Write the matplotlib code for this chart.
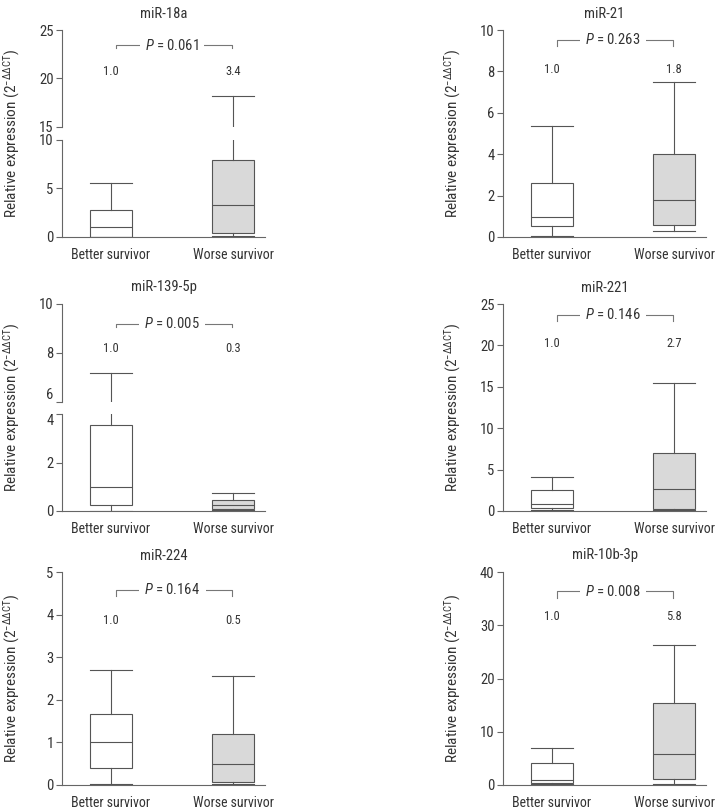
import matplotlib
matplotlib.use('Agg')
import matplotlib.pyplot as plt
from matplotlib import font_manager

names = {f.name for f in font_manager.fontManager.ttflist}
fam = 'Roboto Condensed' if 'Roboto Condensed' in names else 'Liberation Sans'
plt.rcParams['font.family'] = [fam, 'DejaVu Sans']
plt.rcParams['mathtext.fontset'] = 'custom'
plt.rcParams['mathtext.rm'] = fam
plt.rcParams['mathtext.it'] = fam + ':italic'

titles = ['miR-18a', 'miR-21', 'miR-139-5p', 'miR-221', 'miR-224', 'miR-10b-3p']
groups = ['Better survivor', 'Worse survivor']
p_values = ['0.061', '0.263', '0.005', '0.146', '0.164', '0.008']
fold_better = ['1.0', '1.0', '1.0', '1.0', '1.0', '1.0']
fold_worse = ['3.4', '1.8', '0.3', '2.7', '0.5', '5.8']

# whislo, q1, median, q3, whishi
better = [[0.0, 0.05, 1.05, 2.8, 5.6],
          [0.05, 0.52, 0.98, 2.62, 5.38],
          [0.0, 0.26, 0.97, 3.53, 7.18],
          [0.1, 0.37, 0.9, 2.48, 4.13],
          [0.02, 0.39, 1.01, 1.67, 2.69],
          [0.1, 0.3, 0.97, 4.1, 6.9]]
worse = [[0.1, 0.45, 3.25, 7.9, 18.2],
         [0.29, 0.57, 1.78, 4.03, 7.5],
         [0.03, 0.08, 0.24, 0.44, 0.76],
         [0.1, 0.25, 2.64, 7.0, 15.5],
         [0.02, 0.08, 0.49, 1.19, 2.56],
         [0.1, 1.22, 5.74, 15.4, 26.2]]

# y axis ranges; broken axes have (lower, upper)
y_lower = [(0, 10), (0, 10), (0, 4), (0, 25), (0, 5), (0, 40)]
y_upper = [(15, 25), None, (6, 10), None, None, None]
tick_step = [5, 2, 2, 5, 1, 10]

# layout (pixels in a 719x810 image)
W, H = 719, 810
col_left = [62, 503]
ax_w = 203
rows = [(30, 237), (304, 511), (572, 785)]
breaks = {0: ((30, 127), (140, 237)), 2: ((304, 402), (414, 511))}
bracket_y = [23.45, 9.53, 9.2, 23.7, 4.58, 36.4]
label_y = [20.7, 8.1, 8.2, 20.25, 3.87, 31.7]

edge = '#555555'
fill = ['white', '#d9d9d9']
txt = '#333333'


def rect(x, top, bottom):
    return [x / W, 1 - bottom / H, ax_w / W, (bottom - top) / H]


def stats(v, name):
    return dict(whislo=v[0], q1=v[1], med=v[2], q3=v[3], whishi=v[4], label=name)


def style(ax, lo, hi, step, bottom=True):
    ax.set_xlim(0.598, 2.262)
    ax.set_ylim(lo, hi)
    ax.set_yticks(range(lo, hi + 1, step))
    for s in ['top', 'right']:
        ax.spines[s].set_visible(False)
    for s in ['left', 'bottom']:
        ax.spines[s].set_color('#666666')
        ax.spines[s].set_linewidth(0.8)
    ax.tick_params(axis='y', direction='out', length=4, width=0.8, color='#666666',
                   labelsize=10.5, labelcolor=txt, pad=2)
    ax.tick_params(axis='x', length=0, labelsize=10, labelcolor=txt, pad=8)
    if not bottom:
        ax.spines['bottom'].set_visible(False)
        ax.set_xticks([])


fig = plt.figure(figsize=(W / 100, H / 100), dpi=100)

for i in range(6):
    col = i % 2
    row = i // 2
    x0 = col_left[col]
    if i in breaks:
        (ut, ub), (lt, lb) = breaks[i]
        ax_hi = fig.add_axes(rect(x0, ut, ub))
        ax_lo = fig.add_axes(rect(x0, lt, lb))
        style(ax_hi, y_upper[i][0], y_upper[i][1], tick_step[i], bottom=False)
        style(ax_lo, y_lower[i][0], y_lower[i][1], tick_step[i])
        axes = [ax_hi, ax_lo]
        if i == 2:
            # labels either side of the tight break
            ax_hi.get_yticklabels()[0].set_va('bottom')
            ax_lo.get_yticklabels()[-1].set_va('top')
    else:
        top, bot = rows[row]
        ax_lo = fig.add_axes(rect(x0, top, bot))
        style(ax_lo, y_lower[i][0], y_lower[i][1], tick_step[i])
        ax_hi = ax_lo
        axes = [ax_lo]

    for ax in axes:
        bp = ax.bxp([stats(better[i], groups[0]), stats(worse[i], groups[1])],
                    positions=[1, 2], widths=0.344, showfliers=False, patch_artist=True,
                    boxprops=dict(edgecolor=edge, linewidth=0.8),
                    whiskerprops=dict(color=edge, linewidth=0.8),
                    capprops=dict(color=edge, linewidth=0.8),
                    medianprops=dict(color=edge, linewidth=0.8),
                    capwidths=0.344)
        for patch, c in zip(bp['boxes'], fill):
            patch.set_facecolor(c)
    if i in breaks:
        ax_hi.set_xticks([])
    ax_lo.set_xticks([1, 2])
    ax_lo.set_xticklabels(groups)

    # p-value bracket and median fold labels
    yb = bracket_y[i]
    lo, hi = ax_hi.get_ylim()
    d = (hi - lo) * 0.03
    ax_hi.plot([1.04, 1.04, 1.99, 1.99], [yb - d, yb, yb, yb - d], color='#777777', lw=0.8)
    ax_hi.text(1.5, yb, r'$\mathit{P}$ = ' + p_values[i], ha='center', va='center', fontsize=10.5,
               color=txt, bbox=dict(facecolor='white', edgecolor='none', pad=4))
    ax_hi.text(1, label_y[i], fold_better[i], ha='center', va='center', fontsize=9, color=txt)
    ax_hi.text(2, label_y[i], fold_worse[i], ha='center', va='center', fontsize=9, color=txt)
    ax_hi.set_title(titles[i], fontsize=10.5, color=txt, pad=9)

    top, bot = rows[row]
    lx = 12 if col == 0 else 453
    fig.text(lx / W, 1 - (top + bot) / 2 / H, r'Relative expression (2$^{\mathregular{-ΔΔCT}}$)',
             rotation=90, ha='center', va='center', fontsize=11, color=txt)

fig.savefig('out.png', dpi=100)
